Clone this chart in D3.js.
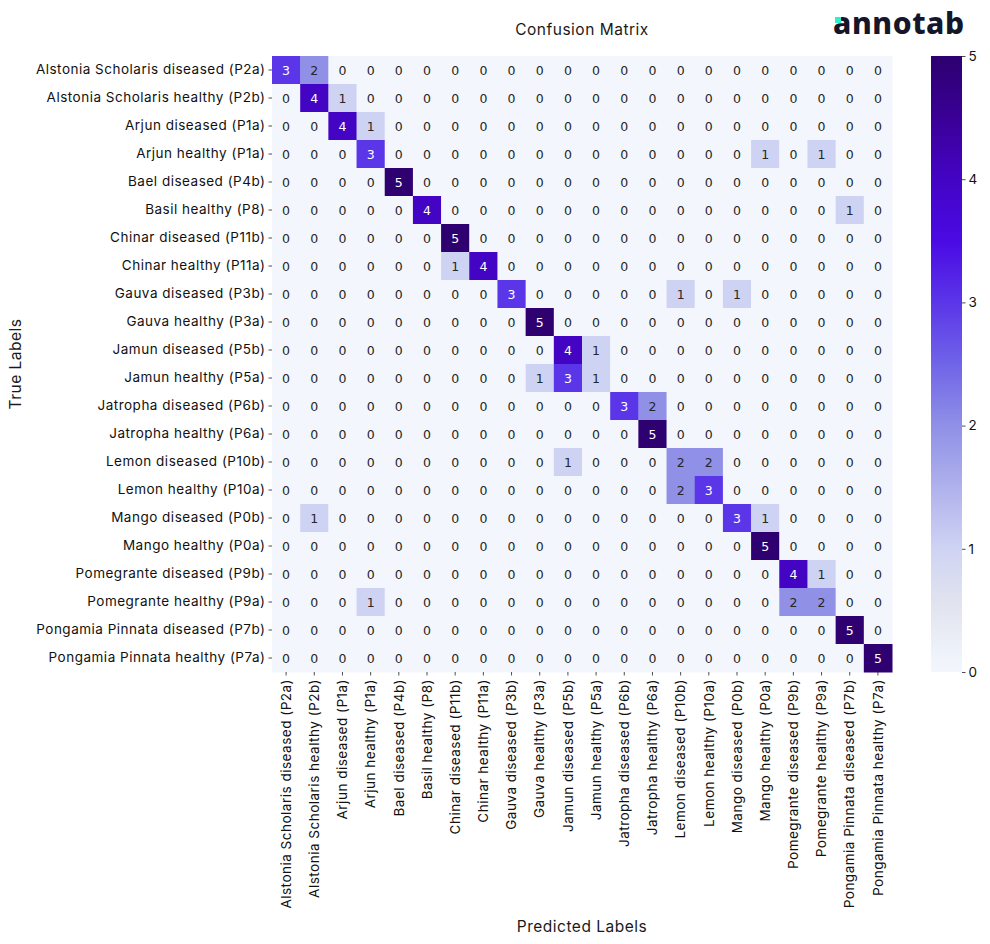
<!DOCTYPE html>
<html>
<head>
<meta charset="utf-8">
<script src="https://cdn.jsdelivr.net/npm/d3@7"></script>
<style>
  body { margin: 0; background: #fff; }
  svg text { fill: #1a1a1a; }
</style>
</head>
<body>
<div id="chart"></div>
<script>
let labels = [
  'Alstonia Scholaris diseased (P2a)', 'Alstonia Scholaris healthy (P2b)',
  'Arjun diseased (P1a)', 'Arjun healthy (P1a)', 'Bael diseased (P4b)',
  'Basil healthy (P8)', 'Chinar diseased (P11b)', 'Chinar healthy (P11a)',
  'Gauva diseased (P3b)', 'Gauva healthy (P3a)', 'Jamun diseased (P5b)',
  'Jamun healthy (P5a)', 'Jatropha diseased (P6b)', 'Jatropha healthy (P6a)',
  'Lemon diseased (P10b)', 'Lemon healthy (P10a)', 'Mango diseased (P0b)',
  'Mango healthy (P0a)', 'Pomegrante diseased (P9b)', 'Pomegrante healthy (P9a)',
  'Pongamia Pinnata diseased (P7b)', 'Pongamia Pinnata healthy (P7a)'
];

let matrix = [
  [3,2,0,0,0,0,0,0,0,0,0,0,0,0,0,0,0,0,0,0,0,0],
  [0,4,1,0,0,0,0,0,0,0,0,0,0,0,0,0,0,0,0,0,0,0],
  [0,0,4,1,0,0,0,0,0,0,0,0,0,0,0,0,0,0,0,0,0,0],
  [0,0,0,3,0,0,0,0,0,0,0,0,0,0,0,0,0,1,0,1,0,0],
  [0,0,0,0,5,0,0,0,0,0,0,0,0,0,0,0,0,0,0,0,0,0],
  [0,0,0,0,0,4,0,0,0,0,0,0,0,0,0,0,0,0,0,0,1,0],
  [0,0,0,0,0,0,5,0,0,0,0,0,0,0,0,0,0,0,0,0,0,0],
  [0,0,0,0,0,0,1,4,0,0,0,0,0,0,0,0,0,0,0,0,0,0],
  [0,0,0,0,0,0,0,0,3,0,0,0,0,0,1,0,1,0,0,0,0,0],
  [0,0,0,0,0,0,0,0,0,5,0,0,0,0,0,0,0,0,0,0,0,0],
  [0,0,0,0,0,0,0,0,0,0,4,1,0,0,0,0,0,0,0,0,0,0],
  [0,0,0,0,0,0,0,0,0,1,3,1,0,0,0,0,0,0,0,0,0,0],
  [0,0,0,0,0,0,0,0,0,0,0,0,3,2,0,0,0,0,0,0,0,0],
  [0,0,0,0,0,0,0,0,0,0,0,0,0,5,0,0,0,0,0,0,0,0],
  [0,0,0,0,0,0,0,0,0,0,1,0,0,0,2,2,0,0,0,0,0,0],
  [0,0,0,0,0,0,0,0,0,0,0,0,0,0,2,3,0,0,0,0,0,0],
  [0,1,0,0,0,0,0,0,0,0,0,0,0,0,0,0,3,1,0,0,0,0],
  [0,0,0,0,0,0,0,0,0,0,0,0,0,0,0,0,0,5,0,0,0,0],
  [0,0,0,0,0,0,0,0,0,0,0,0,0,0,0,0,0,0,4,1,0,0],
  [0,0,0,1,0,0,0,0,0,0,0,0,0,0,0,0,0,0,2,2,0,0],
  [0,0,0,0,0,0,0,0,0,0,0,0,0,0,0,0,0,0,0,0,5,0],
  [0,0,0,0,0,0,0,0,0,0,0,0,0,0,0,0,0,0,0,0,0,5]
];

// colour stops of the purple map, value -> colour
let colorDomain = [0, 0.6, 1, 2, 2.5, 3, 3.5, 4, 4.5, 5];
let colorRange = ['#f3f7fd', '#dfe2ee', '#cfd3f3', '#8f90e6', '#7064e8', '#5b36e8', '#4a0ae4', '#4404c4', '#3a0096', '#2e0070'];
let colorTicks = [0, 1, 2, 3, 4, 5];

let width = 990, height = 944;
let margin = {top: 56, left: 272};
let gridW = 620, gridH = 616;

let svg = d3.select('#chart').append('svg').attr('width', width).attr('height', height);

let labelFont = 'Inter, "Noto Sans", sans-serif';
let labelSize = '13.5px', labelSpacing = '0.5px';

let x = d3.scaleBand().domain(d3.range(labels.length)).range([margin.left, margin.left + gridW]);
let y = d3.scaleBand().domain(d3.range(labels.length)).range([margin.top, margin.top + gridH]);
let color = d3.scaleLinear().domain(colorDomain).range(colorRange).clamp(true);

let cells = [];
matrix.forEach((row, i) => row.forEach((v, j) => cells.push({i: i, j: j, v: v})));

let cellG = svg.append('g');
cellG.selectAll('rect').data(cells).enter().append('rect')
  .attr('x', d => x(d.j))
  .attr('y', d => y(d.i))
  .attr('width', x.bandwidth() + 0.5)
  .attr('height', y.bandwidth() + 0.5)
  .attr('fill', d => color(d.v));

cellG.selectAll('text').data(cells).enter().append('text')
  .attr('x', d => x(d.j) + x.bandwidth() / 2)
  .attr('y', d => y(d.i) + y.bandwidth() / 2)
  .attr('dy', '0.36em')
  .attr('text-anchor', 'middle')
  .style('font-family', '"DejaVu Sans", sans-serif')
  .style('font-size', '12.5px')
  .style('fill', d => d.v >= 3 ? '#ffffff' : '#262626')
  .text(d => d.v);

// axes
let yAxis = d3.axisLeft(y).tickSize(3.5).tickPadding(3).tickFormat(i => labels[i]);
let yG = svg.append('g').attr('transform', 'translate(' + margin.left + ',0)').call(yAxis);
yG.select('.domain').remove();
yG.selectAll('text').style('font-family', labelFont).style('font-size', labelSize)
  .style('letter-spacing', labelSpacing).style('fill', '#111');
yG.selectAll('line').attr('stroke', '#222').attr('stroke-width', 0.8);

let xAxis = d3.axisBottom(x).tickSize(3.5).tickPadding(3).tickFormat(i => labels[i]);
let xG = svg.append('g').attr('transform', 'translate(0,' + (margin.top + gridH) + ')').call(xAxis);
xG.select('.domain').remove();
xG.selectAll('line').attr('stroke', '#222').attr('stroke-width', 0.8);
xG.selectAll('text')
  .style('font-family', labelFont).style('font-size', labelSize)
  .style('letter-spacing', labelSpacing).style('fill', '#111')
  .attr('text-anchor', 'end')
  .attr('transform', 'rotate(-90)')
  .attr('x', -7).attr('y', 0).attr('dy', '0.35em');

// titles
svg.append('text').attr('x', margin.left + gridW / 2).attr('y', 35)
  .attr('text-anchor', 'middle').style('font-family', labelFont).style('font-size', '15.5px')
  .style('letter-spacing', labelSpacing).text('Confusion Matrix');
svg.append('text').attr('x', margin.left + gridW / 2).attr('y', 932)
  .attr('text-anchor', 'middle').style('font-family', labelFont).style('font-size', '15.5px')
  .style('letter-spacing', labelSpacing).text('Predicted Labels');
svg.append('text').attr('transform', 'translate(21,' + (margin.top + gridH / 2) + ') rotate(-90)')
  .attr('text-anchor', 'middle').style('font-family', labelFont).style('font-size', '15.5px')
  .style('letter-spacing', labelSpacing).text('True Labels');

// colorbar
let cbX = 931, cbW = 31;
let cbScale = d3.scaleLinear().domain([0, 5]).range([margin.top + gridH, margin.top]);
let grad = svg.append('defs').append('linearGradient')
  .attr('id', 'cbar').attr('x1', '0%').attr('y1', '100%').attr('x2', '0%').attr('y2', '0%');
colorDomain.forEach((v, k) => {
  grad.append('stop').attr('offset', (v / 5 * 100) + '%').attr('stop-color', colorRange[k]);
});
svg.append('rect').attr('x', cbX).attr('y', margin.top).attr('width', cbW).attr('height', gridH)
  .style('fill', 'url(#cbar)');
let cbG = svg.append('g').attr('transform', 'translate(' + (cbX + cbW) + ',0)')
  .call(d3.axisRight(cbScale).tickValues(colorTicks).tickFormat(d3.format('d')).tickSize(3.5).tickPadding(3));
cbG.select('.domain').remove();
cbG.selectAll('line').attr('stroke', '#222').attr('stroke-width', 0.8);
cbG.selectAll('text').style('font-family', labelFont).style('font-size', labelSize).style('fill', '#111');

// logo
let logo = svg.append('g');
logo.append('text').attr('x', 833).attr('y', 34)
  .style('font-family', '"Noto Sans", sans-serif').style('font-weight', 800)
  .style('font-size', '30px').style('letter-spacing', '0.6px').style('fill', '#16162a')
  .text('annotab');
logo.append('rect').attr('x', 835).attr('y', 17).attr('width', 6).attr('height', 6).attr('fill', '#2ef0d0');
</script>
</body>
</html>
